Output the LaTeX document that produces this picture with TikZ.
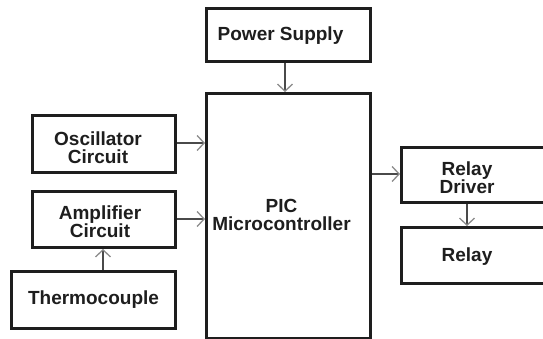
\documentclass[tikz,border=0pt]{standalone}
\usepackage{fontspec}
\setmainfont{Liberation Sans}
\usetikzlibrary{arrows.meta}
\definecolor{ink}{HTML}{1E1E1E}
\definecolor{wire}{HTML}{4A4A4A}
\definecolor{tipc}{HTML}{8C8C8C}
\tikzset{
  box/.style={draw=ink, line width=3pt, rectangle, inner sep=0pt, fill=white},
  lbl/.style={font=\fontsize{19}{18}\selectfont\bfseries, text=ink, align=center, inner sep=0pt},
  conn/.style={draw=wire, line width=2pt, -{Straight Barb[length=7pt,width=15pt,line width=1.3pt,color=tipc]}}
}
\begin{document}
\begin{tikzpicture}[x=1pt,y=-1pt]
\useasboundingbox (0,0) rectangle (543,339);
\clip (0,0) rectangle (543,339);
\fill[white] (0,0) rectangle (543,339);
% boxes
\node[box, minimum width=164pt, minimum height=53pt,
  label={[lbl, xshift=-8pt, yshift=-1pt]center:Power Supply}] (ps) at (288.5,35) {};
\node[box, minimum width=164pt, minimum height=245pt,
  label={[lbl, xshift=-7pt, yshift=1pt]center:{PIC\\Microcontroller}}] (pic) at (288.5,216) {};
\node[box, minimum width=143pt, minimum height=57pt,
  label={[lbl, xshift=-6pt, yshift=-4pt]center:{Oscillator\\Circuit}}] (osc) at (104,144) {};
\node[box, minimum width=143pt, minimum height=56pt,
  label={[lbl, xshift=-4pt, yshift=-2pt]center:{Amplifier\\Circuit}}] (amp) at (104,219.5) {};
\node[box, minimum width=164pt, minimum height=57pt,
  label={[lbl, yshift=0pt]center:Thermocouple}] (th) at (93.5,300) {};
\node[box, minimum width=157pt, minimum height=55pt,
  label={[lbl, xshift=-13pt, yshift=-3pt]center:{Relay\\Driver}}] (rd) at (480,175) {};
\node[box, minimum width=157pt, minimum height=56pt,
  label={[lbl, xshift=-13pt, yshift=-1pt]center:Relay}] (rl) at (480,255.5) {};
% connectors
\draw[conn] (ps.south -| 285,0) -- (pic.north -| 285,0);
\draw[conn] (osc.east |- 0,143) -- (pic.west |- 0,143);
\draw[conn] (amp.east |- 0,219) -- (pic.west |- 0,219);
\draw[conn] (th.north -| 103,0) -- (amp.south -| 103,0);
\draw[conn] (pic.east |- 0,174) -- (rd.west |- 0,174);
\draw[conn] (rd.south -| 467,0) -- (rl.north -| 467,0);
\end{tikzpicture}
\end{document}
